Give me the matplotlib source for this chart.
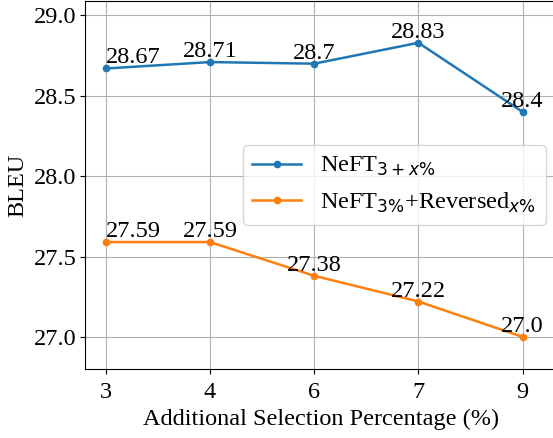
import matplotlib.pyplot as plt

plt.rcParams['font.family'] = ['Liberation Serif', 'DejaVu Sans']
plt.rcParams['mathtext.fontset'] = 'dejavusans'
plt.rcParams['font.size'] = 17.5

x_labels = ['3', '4', '6', '7', '9']
neft_plus = [28.67, 28.71, 28.7, 28.83, 28.4]
neft_rev = [27.59, 27.59, 27.38, 27.22, 27.0]

pos = list(range(len(x_labels)))

fig = plt.figure(figsize=(5.53, 4.38), dpi=100)
# axes runs a little past the right edge, as in the reference crop
ax = fig.add_axes([85 / 553, 1 - 369 / 438, 473 / 553, 368 / 438])
ax.spines['right'].set_visible(False)

ax.plot(pos, neft_plus, marker='o', markersize=4.5, linewidth=1.8, color='#1f77b4',
        label=r'NeFT$_{3+x\%}$')
ax.plot(pos, neft_rev, marker='o', markersize=4.5, linewidth=1.8, color='#ff7f0e',
        label=r'NeFT$_{3\%}$+Reversed$_{x\%}$')

for series in (neft_plus, neft_rev):
    for i, v in enumerate(series):
        ha = 'left' if i == 0 else 'center'
        ax.annotate(str(v), (pos[i], v), xytext=(0, 0), textcoords='offset points',
                    ha=ha, va='bottom')

ax.set_xticks(pos)
ax.set_xticklabels(x_labels)
ax.set_xlim(-0.2, 4.34)
ax.set_ylim(26.8, 29.09)
ax.set_yticks([27.0, 27.5, 28.0, 28.5, 29.0])
ax.tick_params(axis='x', pad=6)
ax.tick_params(axis='y', pad=2.5)
ax.grid(True, color='#b0b0b0', linewidth=0.8)
ax.set_axisbelow(True)
ax.set_xlabel('Additional Selection Percentage (%)')
ax.set_ylabel('BLEU')
ax.legend(loc='center right')

plt.savefig('out.png', dpi=100)
